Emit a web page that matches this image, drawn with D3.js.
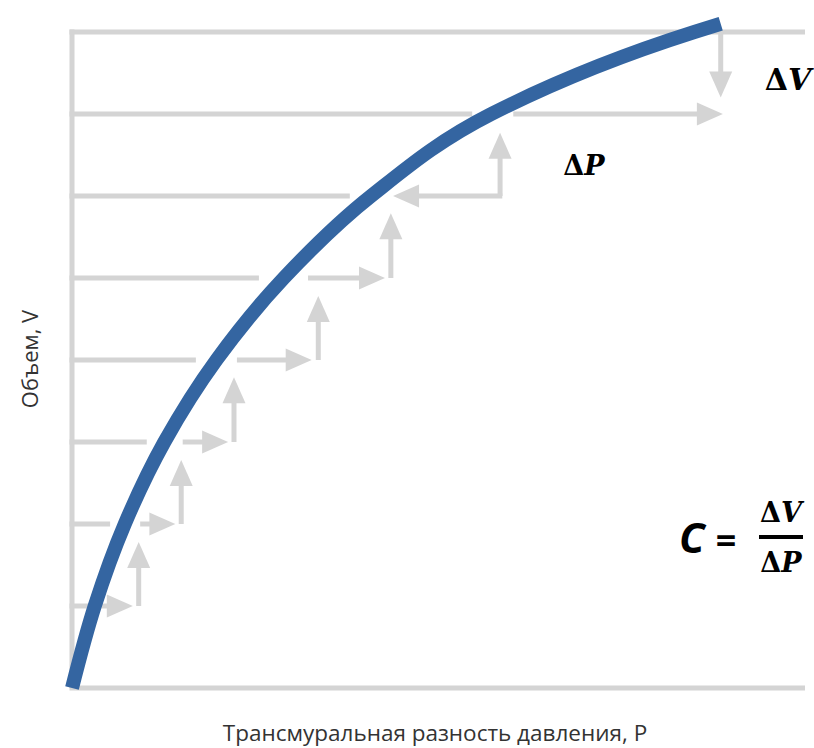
<!DOCTYPE html>
<html>
<head>
<meta charset="utf-8">
<script src="https://cdn.jsdelivr.net/npm/d3@7"></script>
<style>
  html, body { margin: 0; padding: 0; background: #ffffff; }
  svg { display: block; }
</style>
</head>
<body>
<svg id="chart" width="814" height="748"></svg>
<script>
// Volume levels of the horizontal grid (V units)
const volumeLevels = [0, 1, 2, 3, 4, 5, 6, 7, 8];
// Pressure at which each grid line stops (left of the curve)
const gridStopP = [10, 0.27, 0.52, 1.02, 1.69, 2.55, 3.79, 5.46, 10];

// Compliance curve V(P)
const curveP = [0, 0.31, 0.72, 1.26, 1.97, 2.89, 4.08, 5.72, 8.49, 8.85];
const curveV = [0, 1, 2, 3, 4, 5, 6, 7, 8, 8.1];

// Horizontal step arrows: volume level, start pressure, tip pressure
const stepLevel = [1, 2, 3, 4, 5, 6, 7];
const stepFromP = [0.40, 0.93, 1.51, 2.25, 3.22, 5.87, 6.02];
const stepToP   = [0.83, 1.41, 2.13, 3.27, 4.27, 4.38, 8.88];

// Vertical step arrows: pressure, start volume, tip volume
const riseP     = [0.91, 1.49, 2.21, 3.36, 4.35, 5.84, 8.85];
const riseFromV = [1, 2, 3, 4, 5, 6, 8];
const riseToV   = [1.78, 2.78, 3.79, 4.78, 5.79, 6.77, 7.20];

const xLabel = "Трансмуральная разность давления, P";
const yLabel = "Объем, V";

const svg = d3.select("#chart");
const x = d3.scaleLinear().domain([0, 10]).range([72, 805]);
const y = d3.scaleLinear().domain([0, 8]).range([688, 32]);

const GRAY = "#d4d4d4";
const BLUE = "#3465a1";
const SW = 5;          // grid / shaft width
const HEAD_L = 26;     // arrow head length
const HEAD_W = 11.5;   // arrow head half width

const gGrid = svg.append("g");

// vertical axis line
gGrid.append("line")
  .attr("x1", x(0)).attr("x2", x(0))
  .attr("y1", y(8) - SW / 2).attr("y2", y(0))
  .attr("stroke", GRAY).attr("stroke-width", SW);

// horizontal grid lines
gGrid.selectAll("line.grid")
  .data(volumeLevels.map((v, i) => ({ v, stop: gridStopP[i] })))
  .join("line")
  .attr("class", "grid")
  .attr("x1", x(0) - SW / 2)
  .attr("x2", d => x(d.stop))
  .attr("y1", d => y(d.v)).attr("y2", d => y(d.v))
  .attr("stroke", GRAY).attr("stroke-width", SW);

// generic arrow from (x1,y1) to tip (x2,y2)
function arrow(g, x1, y1, x2, y2) {
  const dx = x2 - x1, dy = y2 - y1;
  const len = Math.hypot(dx, dy);
  const ux = dx / len, uy = dy / len;
  const bx = x2 - ux * HEAD_L, by = y2 - uy * HEAD_L;
  g.append("line")
    .attr("x1", x1).attr("y1", y1)
    .attr("x2", bx + ux).attr("y2", by + uy)
    .attr("stroke", GRAY).attr("stroke-width", SW);
  g.append("path")
    .attr("d", `M${x2},${y2}L${bx - uy * HEAD_W},${by + ux * HEAD_W}L${bx + uy * HEAD_W},${by - ux * HEAD_W}Z`)
    .attr("fill", GRAY);
}

const gArrows = svg.append("g");
stepLevel.forEach((v, i) => {
  arrow(gArrows, x(stepFromP[i]), y(v), x(stepToP[i]), y(v));
});
riseP.forEach((p, i) => {
  arrow(gArrows, x(p), y(riseFromV[i]), x(p), y(riseToV[i]));
});

// compliance curve, interpolated along the volume axis
const curveData = curveP.map((p, i) => [p, curveV[i]]);
svg.append("path")
  .datum(curveData)
  .attr("d", d3.line().x(d => x(d[0])).y(d => y(d[1])).curve(d3.curveMonotoneY))
  .attr("fill", "none")
  .attr("stroke", BLUE)
  .attr("stroke-width", 14)
  .attr("stroke-linecap", "butt");

// axis titles
svg.append("text")
  .attr("x", 435).attr("y", 741)
  .attr("text-anchor", "middle")
  .attr("font-family", "'Open Sans', sans-serif")
  .attr("font-size", 22.5)
  .attr("fill", "#333")
  .text(xLabel);

svg.append("text")
  .attr("transform", "translate(38,359) rotate(-90)")
  .attr("text-anchor", "middle")
  .attr("font-family", "'Open Sans', sans-serif")
  .attr("font-size", 22)
  .attr("fill", "#333")
  .text(yLabel);

// delta symbols
function delta(xc, yb, letter, size) {
  const t = svg.append("text")
    .attr("x", xc).attr("y", yb)
    .attr("text-anchor", "middle")
    .attr("font-family", "'DejaVu Serif', serif")
    .attr("font-size", size)
    .attr("font-weight", "bold")
    .attr("fill", "#000");
  t.append("tspan").text("Δ");
  t.append("tspan").attr("font-style", "italic").text(letter);
}
delta(788, 90, "V", 30);
delta(584, 175, "P", 27);

// compliance formula
svg.append("text")
  .attr("x", 679).attr("y", 553)
  .attr("font-family", "'Open Sans', sans-serif")
  .attr("font-size", 42)
  .attr("font-weight", "bold")
  .attr("font-style", "italic")
  .attr("fill", "#000")
  .text("C");
svg.append("text")
  .attr("x", 726).attr("y", 553)
  .attr("text-anchor", "middle")
  .attr("font-family", "'Open Sans', sans-serif")
  .attr("font-size", 36)
  .attr("font-weight", "bold")
  .attr("fill", "#000")
  .text("=");
svg.append("line")
  .attr("x1", 759).attr("x2", 803)
  .attr("y1", 537).attr("y2", 537)
  .attr("stroke", "#000").attr("stroke-width", 4);
delta(781, 522, "V", 27);
delta(781, 572, "P", 27);
</script>
</body>
</html>
